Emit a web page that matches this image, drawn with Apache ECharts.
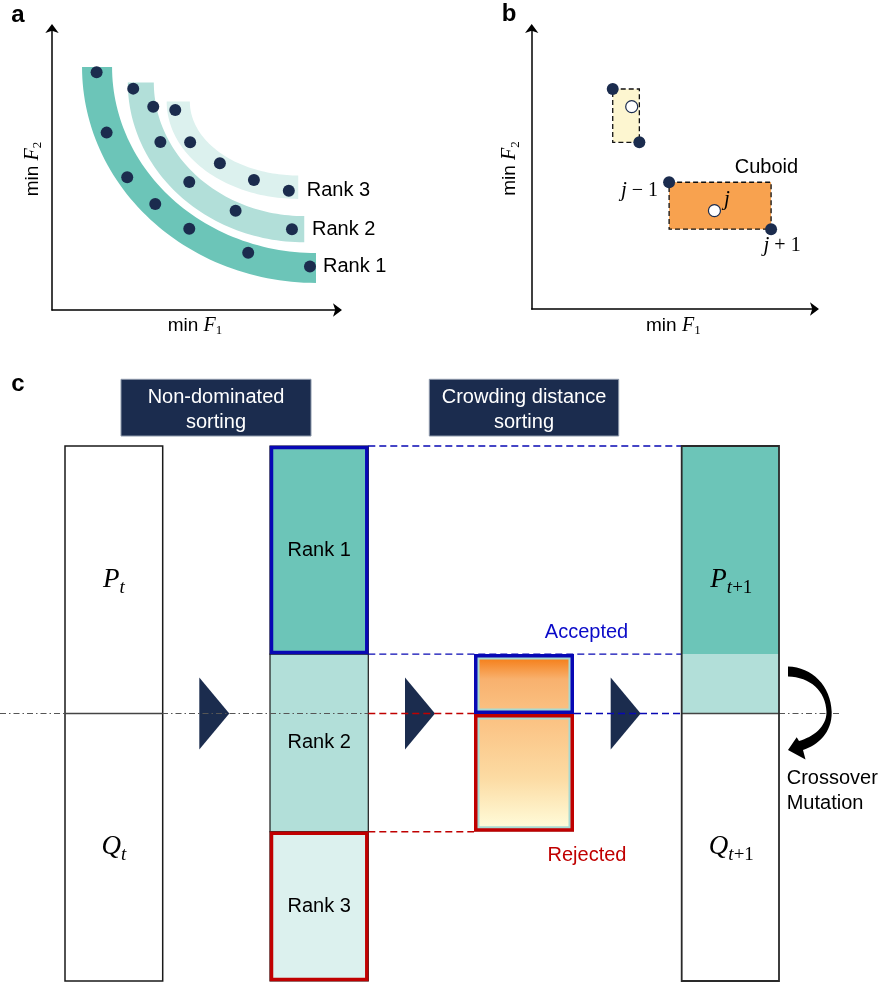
<!DOCTYPE html>
<html><head><meta charset="utf-8">
<script src="https://cdn.jsdelivr.net/npm/echarts@6/dist/echarts.min.js"></script>
<style>html,body{margin:0;padding:0;background:#fff}#c{width:885px;height:985px}</style>
</head><body><div id="c"></div>
<script>
// ================= DATA =================
// Panel a: objective values (F1, F2) of the solutions in each non-dominated front
const rank1Points = [[1.56,8.43],[1.91,6.29],[2.63,4.71],[3.61,3.76],[4.80,2.88],[6.86,2.03],[9.02,1.54]];
const rank2Points = [[2.84,7.85],[3.54,7.21],[3.79,5.96],[4.80,4.54],[6.42,3.52],[8.39,2.86]];
const rank3Points = [[4.31,7.09],[4.83,5.95],[5.87,5.20],[7.06,4.61],[8.28,4.23]];
const rankNames = ['Rank 1','Rank 2','Rank 3'];
// front bands (quarter elliptic rings): [centreF1, centreF2, outerR1, outerR2, innerR1, innerR2]
const rankBands = [
  [9.23,8.62,8.18,7.66,7.13,6.60],
  [8.82,8.07,6.17,5.67,5.26,4.74],
  [8.61,7.39,4.60,3.45,3.79,2.62]
];
// Panel b: neighbours (filled) and evaluated solutions (hollow)
const neighbourPoints = [[2.86,7.83],[3.80,5.93],[4.85,4.51],[8.45,2.84]];
const evaluatedPoints = [[3.53,7.20],[6.45,3.50]];
const neighbourLabels = ['','','j-1','j+1'];
const evaluatedLabels = ['','j'];
const cuboidPairs = [[0,1],[2,3]];   // neighbour index pairs spanning each cuboid
const cuboidNames = ['','Cuboid'];
// Panel c: shares of the combined population (Pt ∪ Qt) in each front
const rankShares = [0.389, 0.332, 0.279];
const parentShare = 0.5;
const stageTitles = ['Non-dominated\nsorting','Crowding distance\nsorting'];
const sideNotes = ['Accepted','Rejected','Crossover\nMutation'];

// ================= STYLE =================
const SANS = "'Liberation Sans', Arial, Helvetica, sans-serif";
const SERIF = "'Liberation Serif', 'Times New Roman', serif";
const NAVY = '#1b2c4e';
const BLUE = '#0808b4';
const RED = '#c00000';
const bandColors = ['#6cc5b8','#b2dfd9','#dcf1ee'];
const cuboidColors = ['#fdf6d0','#f8a24f'];

function axisRich(size){
  return {
    m:{fontFamily:SANS,fontSize:size,color:'#000'},
    i:{fontFamily:SERIF,fontStyle:'italic',fontSize:size+1,color:'#000'},
    s:{fontFamily:SERIF,fontSize:Math.round(size*0.7),color:'#000',padding:[Math.round(size*0.55),0,0,0]}
  };
}
function mathRich(size){
  return {
    i:{fontFamily:SERIF,fontStyle:'italic',fontSize:size,color:'#000'},
    s:{fontFamily:SERIF,fontStyle:'italic',fontSize:Math.round(size*0.7),color:'#000',padding:[Math.round(size*0.6),0,0,0]},
    n:{fontFamily:SERIF,fontSize:Math.round(size*0.7),color:'#000',padding:[Math.round(size*0.6),0,0,0]}
  };
}
const arrowLine = {show:true, symbol:['none','arrow'], symbolSize:[10,9], symbolOffset:[0,4], lineStyle:{color:'#000', width:1.5}};
function valAxis(grid, name, gap, show){
  return {
    gridIndex:grid, type:'value', min:0, max:grid===2?(name==='x'?885:1):10,
    show: show,
    axisLine: arrowLine, axisTick:{show:false}, axisLabel:{show:false}, splitLine:{show:false},
    name: name==='x'||name==='y' ? '' : name, nameLocation:'middle', nameGap:gap,
    nameTextStyle:{rich:axisRich(19)}
  };
}
function vGrad(stops){
  return {type:'linear', x:0, y:0, x2:0, y2:1, colorStops:stops.map(s=>({offset:s[0], color:s[1]}))};
}

// Panel c layout (x in px-like units of the flow grid)
const colPt=[65,162.7], colRank=[270,368.3], colCD=[474,574], colNext=[681.7,779];

function renderBand(params, api){
  const b = rankBands[params.dataIndex];
  const pts=[]; const N=60;
  for(let k=0;k<=N;k++){const t=Math.PI+Math.PI/2*k/N; pts.push(api.coord([b[0]+b[2]*Math.cos(t), b[1]+b[3]*Math.sin(t)]));}
  for(let k=N;k>=0;k--){const t=Math.PI+Math.PI/2*k/N; pts.push(api.coord([b[0]+b[4]*Math.cos(t), b[1]+b[5]*Math.sin(t)]));}
  return {type:'polygon', shape:{points:pts}, style:{fill:bandColors[params.dataIndex]}};
}

function renderCuboid(params, api){
  const i = params.dataIndex;
  const [a,b] = cuboidPairs[i];
  const p0 = api.coord(neighbourPoints[a]), p1 = api.coord(neighbourPoints[b]);
  const x=Math.min(p0[0],p1[0]), y=Math.min(p0[1],p1[1]);
  const w=Math.abs(p1[0]-p0[0]), h=Math.abs(p1[1]-p0[1]);
  const ch=[{type:'rect', shape:{x,y,width:w,height:h}, style:{fill:cuboidColors[i], stroke:'#111', lineWidth:1.3, lineDash:[5,3]}}];
  if(cuboidNames[i]) ch.push({type:'text', style:{text:cuboidNames[i], x:x+w+27, y:y-5, align:'right', verticalAlign:'bottom', fontSize:20, fontFamily:SANS, fill:'#000'}});
  return {type:'group', children:ch};
}

function renderFlow(params, api){
  const xv = x => api.coord([x,0])[0];
  const yv = v => api.coord([0,v])[1];
  const b1 = 1-rankShares[0], b2 = b1-rankShares[1], mid = 1-parentShare;
  const R = (x0,x1,vt,vb) => ({x:xv(x0), y:yv(vt), width:xv(x1)-xv(x0), height:yv(vb)-yv(vt)});
  const L = (x0,x1,v,color,dash,w) => ({type:'line', shape:{x1:xv(x0),y1:yv(v),x2:xv(x1),y2:yv(v)}, style:{stroke:color, lineWidth:w, lineDash:dash||null}});
  const T = (text,x,y,opt) => ({type:'text', style:Object.assign({text, x, y, align:'center', verticalAlign:'middle', fontSize:20, fontFamily:SANS, fill:'#000'}, opt||{})});
  const ch=[];
  const DD=[6,3,1.5,3], DS=[7,4];
  // Pt / Qt column
  ch.push({type:'rect', shape:R(colPt[0],colPt[1],1,0), style:{fill:'#fff', stroke:'#1a1a1a', lineWidth:1.5}});
  // rank column
  const bounds=[1,b1,b2,0];
  for(let i=0;i<3;i++) ch.push({type:'rect', shape:R(colRank[0],colRank[1],bounds[i],bounds[i+1]), style:{fill:bandColors[i], stroke:'#1a1a1a', lineWidth:1.2}});
  // mid line
  ch.push(L(0,colRank[1],mid,'#555',DD,1));
  ch.push(L(colPt[0],colPt[1],mid,'#444',null,1.3));
  ch.push(L(colNext[1],840,mid,'#555',DD,1));
  // connectors
  ch.push(L(colRank[1],colNext[0],1,BLUE,DS,1.4));
  ch.push(L(colRank[1],colNext[0],b1,BLUE,DS,1.4));
  ch.push(L(colRank[1],colCD[0],mid,RED,DS,1.4));
  ch.push(L(colCD[1],colNext[0],mid,BLUE,DS,1.4));
  ch.push(L(colRank[1],colCD[0],b2,RED,DS,1.4));
  // rank borders
  const r1=R(colRank[0],colRank[1],1,b1); r1.x+=1.5; r1.y+=1.5; r1.width-=3; r1.height-=3;
  ch.push({type:'rect', shape:r1, style:{fill:null, stroke:BLUE, lineWidth:3.5}});
  const r3=R(colRank[0],colRank[1],b2,0); r3.x+=1.5; r3.y+=1.5; r3.width-=3; r3.height-=3;
  ch.push({type:'rect', shape:r3, style:{fill:null, stroke:RED, lineWidth:3.5}});
  // crowding distance box (Rank 2 split into accepted / rejected)
  const boxA=R(colCD[0],colCD[1],b1,mid), boxB=R(colCD[0],colCD[1],mid,b2);
  boxA.height+=0.5; boxB.y+=0.5; boxB.height-=0.5;
  [boxA,boxB].forEach((bx,k)=>{
    ch.push({type:'rect', shape:bx, style:{fill:'#a8dad2'}});
    const inner={x:bx.x+5.5,y:bx.y+5.5,width:bx.width-11,height:bx.height-11};
    const grad = k===0
      ? vGrad([[0,'#f5821f'],[0.4,'#f8b16e'],[1,'#fabf80']])
      : vGrad([[0,'#fbc283'],[0.55,'#fcdba3'],[1,'#fffbd8']]);
    ch.push({type:'rect', shape:inner, style:{fill:grad}});
    ch.push({type:'rect', shape:{x:bx.x+1.75,y:bx.y+1.75,width:bx.width-3.5,height:bx.height-3.5}, style:{fill:null, stroke:k===0?BLUE:RED, lineWidth:3.5}});
  });
  // next generation column
  ch.push({type:'rect', shape:R(colNext[0],colNext[1],1,b1), style:{fill:bandColors[0]}});
  ch.push({type:'rect', shape:R(colNext[0],colNext[1],b1,mid), style:{fill:bandColors[1]}});
  ch.push({type:'rect', shape:R(colNext[0],colNext[1],mid,0), style:{fill:'#fff'}});
  ch.push(L(colNext[0],colNext[1],mid,'#444',null,1.3));
  ch.push({type:'rect', shape:R(colNext[0],colNext[1],1,0), style:{fill:null, stroke:'#2a2a2a', lineWidth:1.8}});
  // curved crossover / mutation arrow
  ch.push({type:'path', shape:{pathData:'M788,666.5 C812,667 831,686 831.7,712 C832,733 818,745 803,750 L805.5,759.5 L788,750 L796.7,737.3 L799,741 C813,737 826.5,727 826.5,712 C826,691 810,677 788,676.5 Z'}, style:{fill:'#000'}});
  // labels
  for(let i=0;i<3;i++) ch.push(T(rankNames[i], xv((colRank[0]+colRank[1])/2), yv((bounds[i]+bounds[i+1])/2)));
  const mr = mathRich(27);
  const topC = (1+mid)/2, botC = mid/2;
  ch.push(T('{i|P}{s|t}', xv((colPt[0]+colPt[1])/2), yv(topC), {rich:mr}));
  ch.push(T('{i|Q}{s|t}', xv((colPt[0]+colPt[1])/2), yv(botC), {rich:mr}));
  ch.push(T('{i|P}{s|t}{n|+1}', xv((colNext[0]+colNext[1])/2)+1, yv(topC), {rich:mr}));
  ch.push(T('{i|Q}{s|t}{n|+1}', xv((colNext[0]+colNext[1])/2)+1, yv(botC), {rich:mr}));
  ch.push(T(sideNotes[0], xv(colCD[1])+12.5, yv(b1)-22, {fill:'#0a0ac8'}));
  ch.push(T(sideNotes[1], xv(colCD[1])+13, yv(b2)+24, {fill:RED}));
  ch.push(T(sideNotes[2], 786.7, yv(mid)+77, {align:'left', lineHeight:25}));
  return {type:'group', children:ch};
}

const option = {
  animation:false,
  backgroundColor:'#fff',
  grid:[
    {left:52, top:28, width:286, height:282, containLabel:false, outerBoundsMode:'none'},
    {left:531.7, top:28, width:283.3, height:281, containLabel:false, outerBoundsMode:'none'},
    {left:0, top:446, width:885, height:535, containLabel:false, outerBoundsMode:'none'}
  ],
  xAxis:[
    valAxis(0,'{m|min }{i|F}{s|1}',4,true),
    valAxis(1,'{m|min }{i|F}{s|1}',5,true),
    valAxis(2,'x',0,false)
  ],
  yAxis:[
    valAxis(0,'{m|min }{i|F}{s|2}',8,true),
    valAxis(1,'{m|min }{i|F}{s|2}',10,true),
    valAxis(2,'y',0,false)
  ],
  series:[
    {type:'custom', xAxisIndex:0, yAxisIndex:0, data:rankBands.map(b=>[b[0],b[1]]), renderItem:renderBand, silent:true, z:1},
    ...[rank1Points,rank2Points,rank3Points].map((pts,i)=>({
      type:'scatter', xAxisIndex:0, yAxisIndex:0, symbolSize:12, silent:true, z:3,
      itemStyle:{color:NAVY, opacity:1},
      data:pts.map((p,k)=>k===pts.length-1?{value:p,label:{show:true,formatter:rankNames[i],position:'right',distance:[7,14,12][i],fontSize:20,fontFamily:SANS,color:'#000'}}:p)
    })),
    {type:'custom', xAxisIndex:1, yAxisIndex:1, data:cuboidPairs.map(p=>neighbourPoints[p[0]]), renderItem:renderCuboid, silent:true, z:1},
    {type:'scatter', xAxisIndex:1, yAxisIndex:1, symbolSize:12, silent:true, z:3, itemStyle:{color:NAVY, opacity:1},
      data:neighbourPoints.map((p,k)=>{
        const t=neighbourLabels[k];
        if(!t) return p;
        const parts=t.split(/([+-])/);
        const txt='{i|'+parts[0]+'}{o| '+(parts[1]==='-'?'\u2212':'+')+' }{d|'+parts[2]+'}';
        const lab = k===2 ? {position:'left',distance:5,offset:[0,8]} : {position:'bottom',distance:0,offset:[11,0]};
        return {value:p,label:Object.assign({show:true,formatter:txt,rich:{i:{fontFamily:SERIF,fontStyle:'italic',fontSize:21,color:'#000'},o:{fontFamily:SERIF,fontSize:20,color:'#000'},d:{fontFamily:SERIF,fontSize:20,color:'#000'}}},lab)};
      })},
    {type:'scatter', xAxisIndex:1, yAxisIndex:1, symbolSize:12, silent:true, z:3, itemStyle:{color:'#fff', borderColor:NAVY, borderWidth:1.2, opacity:1},
      data:evaluatedPoints.map((p,k)=>evaluatedLabels[k]?{value:p,label:{show:true,formatter:evaluatedLabels[k],position:'right',distance:3,offset:[0,-11],fontFamily:SERIF,fontStyle:'italic',fontSize:21,color:'#000'}}:p)},
    {type:'custom', xAxisIndex:2, yAxisIndex:2, data:[[0,0]], renderItem:renderFlow, silent:true, clip:false, z:2}
  ],
  graphic:[
    {type:'text', style:{text:'a', x:18, y:15, align:'center', verticalAlign:'middle', font:'bold 24px '+SANS, fill:'#000'}},
    {type:'text', style:{text:'b', x:509, y:14, align:'center', verticalAlign:'middle', font:'bold 24px '+SANS, fill:'#000'}},
    {type:'text', style:{text:'c', x:18, y:384, align:'center', verticalAlign:'middle', font:'bold 24px '+SANS, fill:'#000'}},
    {type:'rect', shape:{x:121,y:379.3,width:190,height:56.7}, style:{fill:NAVY, stroke:'#8c98aa', lineWidth:1}},
    {type:'text', style:{text:stageTitles[0], x:216, y:410, align:'center', verticalAlign:'middle', font:'20px '+SANS, lineHeight:25.7, fill:'#fff'}},
    {type:'rect', shape:{x:429.3,y:379.3,width:189.4,height:56.7}, style:{fill:NAVY, stroke:'#8c98aa', lineWidth:1}},
    {type:'text', style:{text:stageTitles[1], x:524, y:410, align:'center', verticalAlign:'middle', font:'20px '+SANS, lineHeight:25.7, fill:'#fff'}},
    ...[199.3,405,610.7].map(x0=>({type:'polygon', shape:{points:[[x0,677.5],[x0+30,713.5],[x0,749.5]]}, style:{fill:NAVY}}))
  ]
};
const chart = echarts.init(document.getElementById('c'), null, {renderer:'canvas'});
chart.setOption(option);
</script></body></html>
